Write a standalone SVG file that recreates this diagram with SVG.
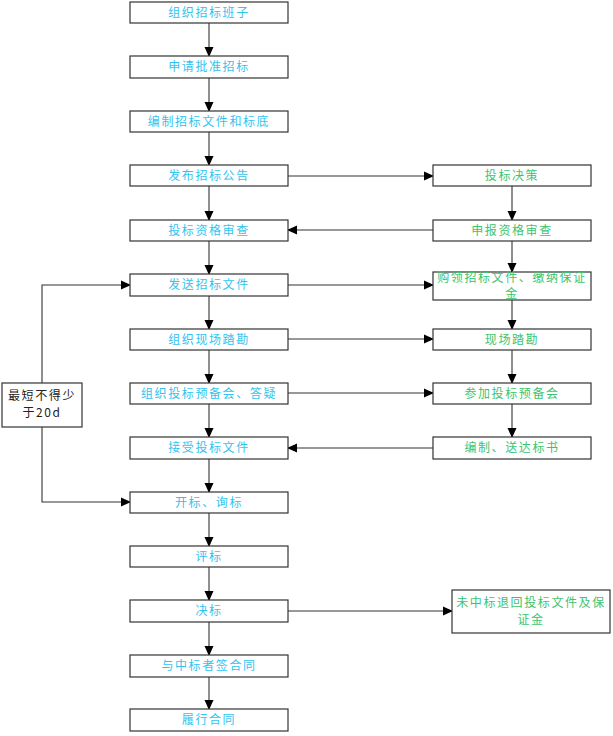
<svg xmlns="http://www.w3.org/2000/svg" width="613" height="736" viewBox="0 0 613 736">
<style>
.b{fill:#fff;stroke:#333;stroke-width:1.2}
.t{font-family:"Noto Sans CJK SC","Liberation Serif",serif;font-size:12px;letter-spacing:1.6px;text-anchor:middle}
.l{fill:#33C3F0}
.r{fill:#3CC46E}
.k{fill:#222}
.c{fill:none;stroke:#333;stroke-width:1.1}
</style>
<defs>
<marker id="a" markerWidth="10" markerHeight="10" refX="9" refY="5" orient="auto" markerUnits="userSpaceOnUse">
<path d="M0,0.5 L10,5 L0,9.5 Z" fill="#000"/>
</marker>
</defs>
<g id="connectors">
<path class="c" marker-end="url(#a)" d="M209,23 V56"/>
<path class="c" marker-end="url(#a)" d="M209,78 V111"/>
<path class="c" marker-end="url(#a)" d="M209,132 V165"/>
<path class="c" marker-end="url(#a)" d="M209,186 V220"/>
<path class="c" marker-end="url(#a)" d="M209,241 V274"/>
<path class="c" marker-end="url(#a)" d="M209,296 V329"/>
<path class="c" marker-end="url(#a)" d="M209,350 V383"/>
<path class="c" marker-end="url(#a)" d="M209,404 V437"/>
<path class="c" marker-end="url(#a)" d="M209,459 V492"/>
<path class="c" marker-end="url(#a)" d="M209,513 V546"/>
<path class="c" marker-end="url(#a)" d="M209,567 V600"/>
<path class="c" marker-end="url(#a)" d="M209,622 V655"/>
<path class="c" marker-end="url(#a)" d="M209,677 V709"/>
<path class="c" marker-end="url(#a)" d="M512,186 V220"/>
<path class="c" marker-end="url(#a)" d="M512,241 V272"/>
<path class="c" marker-end="url(#a)" d="M512,300 V329"/>
<path class="c" marker-end="url(#a)" d="M512,350 V383"/>
<path class="c" marker-end="url(#a)" d="M512,404 V437"/>
<path class="c" marker-end="url(#a)" d="M288,176 H433"/>
<path class="c" marker-end="url(#a)" d="M433,230 H288"/>
<path class="c" marker-end="url(#a)" d="M288,285 H433"/>
<path class="c" marker-end="url(#a)" d="M288,339 H433"/>
<path class="c" marker-end="url(#a)" d="M288,393 H433"/>
<path class="c" marker-end="url(#a)" d="M433,448 H288"/>
<path class="c" marker-end="url(#a)" d="M288,611 H452"/>
<path class="c" marker-end="url(#a)" d="M42,383 V285 H130"/>
<path class="c" marker-end="url(#a)" d="M42,427 V502 H130"/>
</g>
<g id="n1"><rect class="b" x="130" y="2" width="158" height="21"/><text class="t l" x="209" y="17">组织招标班子</text></g>
<g id="n2"><rect class="b" x="130" y="56" width="158" height="22"/><text class="t l" x="209" y="71">申请批准招标</text></g>
<g id="n3"><rect class="b" x="130" y="111" width="158" height="21"/><text class="t l" x="209" y="126">编制招标文件和标底</text></g>
<g id="n4"><rect class="b" x="130" y="165" width="158" height="21"/><text class="t l" x="209" y="180">发布招标公告</text></g>
<g id="n5"><rect class="b" x="130" y="220" width="158" height="21"/><text class="t l" x="209" y="235">投标资格审查</text></g>
<g id="n6"><rect class="b" x="130" y="274" width="158" height="22"/><text class="t l" x="209" y="289">发送招标文件</text></g>
<g id="n7"><rect class="b" x="130" y="329" width="158" height="21"/><text class="t l" x="209" y="344">组织现场踏勘</text></g>
<g id="n8"><rect class="b" x="130" y="383" width="158" height="21"/><text class="t l" x="209" y="398">组织投标预备会、答疑</text></g>
<g id="n9"><rect class="b" x="130" y="437" width="158" height="22"/><text class="t l" x="209" y="452">接受投标文件</text></g>
<g id="n10"><rect class="b" x="130" y="492" width="158" height="21"/><text class="t l" x="209" y="507">开标、询标</text></g>
<g id="n11"><rect class="b" x="130" y="546" width="158" height="21"/><text class="t l" x="209" y="561">评标</text></g>
<g id="n12"><rect class="b" x="130" y="600" width="158" height="22"/><text class="t l" x="209" y="615">决标</text></g>
<g id="n13"><rect class="b" x="130" y="655" width="158" height="22"/><text class="t l" x="209" y="670">与中标者签合同</text></g>
<g id="n14"><rect class="b" x="130" y="709" width="158" height="22"/><text class="t l" x="209" y="724">履行合同</text></g>
<g id="r1"><rect class="b" x="433" y="165" width="158" height="21"/><text class="t r" x="512" y="180">投标决策</text></g>
<g id="r2"><rect class="b" x="433" y="220" width="158" height="21"/><text class="t r" x="512" y="235">申报资格审查</text></g>
<g id="r3"><rect class="b" x="433" y="272" width="158" height="28"/><text class="t r"><tspan x="512" y="282">购领招标文件、缴纳保证</tspan><tspan x="512" y="298">金</tspan></text></g>
<g id="r4"><rect class="b" x="433" y="329" width="158" height="21"/><text class="t r" x="512" y="344">现场踏勘</text></g>
<g id="r5"><rect class="b" x="433" y="383" width="158" height="21"/><text class="t r" x="512" y="398">参加投标预备会</text></g>
<g id="r6"><rect class="b" x="433" y="437" width="158" height="22"/><text class="t r" x="512" y="452">编制、送达标书</text></g>
<g id="r7"><rect class="b" x="452" y="590" width="158" height="43"/><text class="t r"><tspan x="531" y="607">未中标退回投标文件及保</tspan><tspan x="531" y="624">证金</tspan></text></g>
<g id="note"><rect class="b" x="2" y="383" width="80" height="44"/><text class="t k"><tspan x="42" y="400">最短不得少</tspan><tspan x="42" y="417">于20d</tspan></text></g>
</svg>
